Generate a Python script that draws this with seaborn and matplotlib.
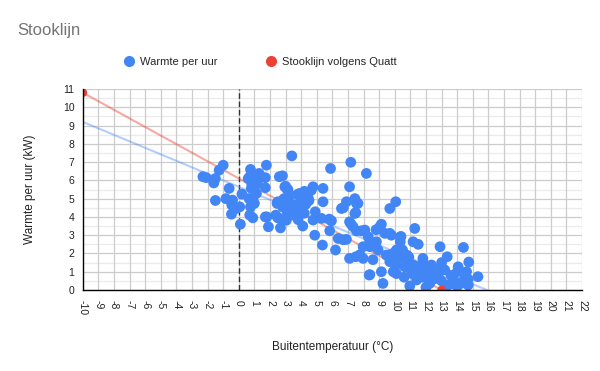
import matplotlib
matplotlib.use("Agg")
import matplotlib.pyplot as plt
from matplotlib.lines import Line2D
import seaborn as sns
import pandas as pd
import numpy as np

# ---- data ----
temp = [-2.3, -2.1, -1.6, -1.5, -1.26, -1.0, -1.5, -0.62, -0.83, -0.4, -0.45, -0.47, -0.15, 0.06, 0.1,
        0.2, 0.75, 0.7, 0.6, 0.83, 0.66, 0.9, 0.75, 1.0, 1.13, 1.3, 1.2, 1.0, 0.7, 0.9,
        1.7, 1.77, 1.7, 1.7, 1.9, 2.6, 2.8, 2.37, 2.5, 2.67, 3.05, 3.0, 3.1, 3.4, 2.9,
        2.45, 2.8, 3.2, 3.45, 3.5, 3.7, 3.8, 4.0, 4.2, 3.8, 4.1, 4.0, 1.13, 0.8, 5.88,
        7.18, 8.18, 3.27, 3.9, 4.44, 4.65, 4.76, 5.4, 7.1, 5.4, 2.84, 3.9, 4.2, 4.9, 4.76,
        5.3, 5.94, 6.58, 6.9, 7.44, 7.54, 7.5, 7.1, 5.83, 4.87, 5.36, 6.2, 6.37, 6.9, 7.33,
        7.54, 8.08, 8.3, 7.97, 8.4, 8.82, 8.93, 7.1, 7.5, 7.97, 8.36, 9.14, 9.24, 9.04, 8.8,
        9.36, 9.68, 10.06, 9.78, 10.35, 10.35, 11.28, 11.17, 11.5, 10.1, 9.9, 9.46, 9.68, 10.2, 10.5,
        10.74, 10.64, 9.9, 10.1, 11.17, 11.5, 11.8, 11.8, 12.0, 12.35, 12.6, 12.9, 13.36, 13.0, 14.4,
        14.74, 14.06, 14.0, 13.6, 14.5, 15.33, 14.7, 10.96, 12.24, 11.8, 11.4, 13.0, 13.5, 14.0, 2.95,
        3.15, 3.8, 4.5, 2.5, 3.3, 3.6, 3.9, 4.3, 3.1, 1.8, 2.7, 5.8, 6.7, 7.44, 7.64,
        7.2, 9.14, 7.86, 6.7, 8.4, 9.68, 10.4, 10.8, 7.76, 8.6, 9.68, 10.1, 8.4, 10.6, 11.0,
        10.9, 11.1, 12.5, 12.8, 13.2, 12.2, 13.8, 14.4, 14.6, 14.7, 12.7, 11.6, 13.3, 14.2, 12.0]
heat = [6.2, 6.15, 5.86, 6.1, 6.56, 6.83, 4.9, 5.56, 5.0, 4.92, 4.65, 4.15, 4.46, 4.55, 3.6,
        5.25, 6.6, 6.2, 6.1, 5.8, 5.0, 5.0, 4.55, 4.74, 5.28, 6.38, 5.95, 5.6, 4.1, 3.95,
        5.6, 6.83, 6.15, 4.0, 3.46, 6.2, 6.25, 4.1, 3.95, 3.4, 3.82, 5.68, 5.5, 7.34, 5.0,
        4.74, 4.55, 4.55, 4.3, 4.1, 4.6, 5.25, 5.1, 5.4, 3.85, 3.5, 4.45, 5.83, 5.56, 6.65,
        6.99, 6.38, 5.2, 5.28, 5.07, 5.46, 5.65, 5.56, 5.65, 4.83, 4.92, 4.37, 4.2, 4.28, 3.83,
        3.92, 3.79, 4.46, 4.83, 5.0, 4.74, 4.23, 3.73, 3.24, 3.0, 2.46, 2.19, 2.82, 2.77, 3.46,
        3.24, 3.28, 2.91, 2.37, 2.37, 2.64, 2.19, 1.73, 1.82, 1.73, 0.82, 1.0, 0.36, 3.46, 3.3,
        3.1, 4.46, 4.83, 3.0, 2.91, 2.64, 3.37, 2.64, 2.5, 2.19, 2.0, 1.91, 1.55, 1.73, 2.19,
        1.64, 1.27, 1.0, 0.9, 1.37, 1.1, 1.5, 1.73, 1.2, 1.37, 1.1, 2.37, 1.82, 1.5, 2.33,
        1.53, 1.27, 1.0, 0.8, 0.75, 0.73, 0.27, 0.22, 0.36, 0.7, 0.55, 0.5, 0.3, 0.2, 5.65,
        5.5, 5.2, 4.9, 4.83, 4.75, 4.65, 4.6, 4.7, 4.3, 4.0, 3.9, 3.88, 4.5, 4.19, 4.74,
        3.6, 3.6, 3.24, 2.75, 2.57, 3.1, 2.93, 1.9, 1.93, 1.66, 1.93, 1.38, 0.84, 0.7, 1.2,
        1.8, 0.9, 0.6, 0.9, 1.1, 0.9, 0.5, 0.5, 1.0, 0.6, 0.8, 1.3, 0.25, 0.35, 0.15]

stook_x = [-10, 13]
stook_y = [10.8, 0]
trend_x = [-10, 15.9]
trend_y = [9.2, 0]

x_ticks = list(range(-10, 23))
y_ticks = list(range(0, 12))

blue = "#4285f4"
red = "#ea4335"

sns.set_theme(style="white")
plt.rcParams["font.family"] = ["Liberation Sans", "DejaVu Sans"]

fig = plt.figure(figsize=(6, 3.71), dpi=100)
ax = fig.add_axes([0.138, 0.2183, 0.832, 0.5418])

df = pd.DataFrame({"temp": temp, "heat": heat})

# grid
for yv in np.arange(0.5, 11, 1.0):
    ax.axhline(yv, color="#ebebeb", lw=0.9, zorder=0)
for yv in y_ticks[1:]:
    ax.axhline(yv, color="#cccccc", lw=0.9, zorder=0)
for xv in x_ticks[1:]:
    ax.axvline(xv, color="#cccccc", lw=0.9, zorder=0)
ax.axvline(0, color="#333333", lw=1.0, ls=(0, (4, 2)), zorder=1)

# trendlines
sns.lineplot(x=trend_x, y=trend_y, ax=ax, color=blue, alpha=0.4, lw=1.5, zorder=2)
sns.lineplot(x=stook_x, y=stook_y, ax=ax, color=red, alpha=0.45, lw=1.5, zorder=2)

# scatter
sns.scatterplot(data=df, x="temp", y="heat", ax=ax, color=blue, s=60,
                edgecolor="none", alpha=1.0, zorder=3)
sns.scatterplot(x=stook_x, y=stook_y, ax=ax, color=red, s=40, edgecolor="none", zorder=4)

ax.set_xlim(-10, 22)
ax.set_ylim(0, 11)
ax.set_xticks(x_ticks)
ax.set_yticks(y_ticks)
ax.set_xticklabels([str(v) for v in x_ticks], rotation=-90, fontsize=7.5, color="#222222")
ax.set_yticklabels([str(v) for v in y_ticks], fontsize=7.5, color="#222222")
ax.tick_params(axis="x", direction="inout", length=8, width=1, color="black", pad=3)
ax.tick_params(axis="y", direction="inout", length=8, width=1, color="black", pad=2)
for s in ["top", "right"]:
    ax.spines[s].set_visible(False)
for s in ["left", "bottom"]:
    ax.spines[s].set_color("black")
    ax.spines[s].set_linewidth(1.0)
    ax.spines[s].set_zorder(5)

ax.set_xlabel("Buitentemperatuur (°C)", fontsize=8.5, color="#222222", labelpad=19)
ax.set_ylabel("Warmte per uur (kW)", fontsize=8.5, color="#222222", labelpad=19)

fig.text(17 / 600, 1 - 31 / 371, "Stooklijn", fontsize=12, color="#757575",
         va="center", ha="left")

handles = [Line2D([0], [0], marker="o", color="none", markerfacecolor=blue,
                  markeredgecolor="none", markersize=8),
           Line2D([0], [0], marker="o", color="none", markerfacecolor=red,
                  markeredgecolor="none", markersize=8)]
fig.legend(handles, ["Warmte per uur", "Stooklijn volgens Quatt"], loc="center",
           bbox_to_anchor=(0.434, 1 - 62 / 371), ncol=2, frameon=False, fontsize=8,
           columnspacing=4.3, handletextpad=0.5, handlelength=1.0)

fig.savefig("out.png", dpi=100)
